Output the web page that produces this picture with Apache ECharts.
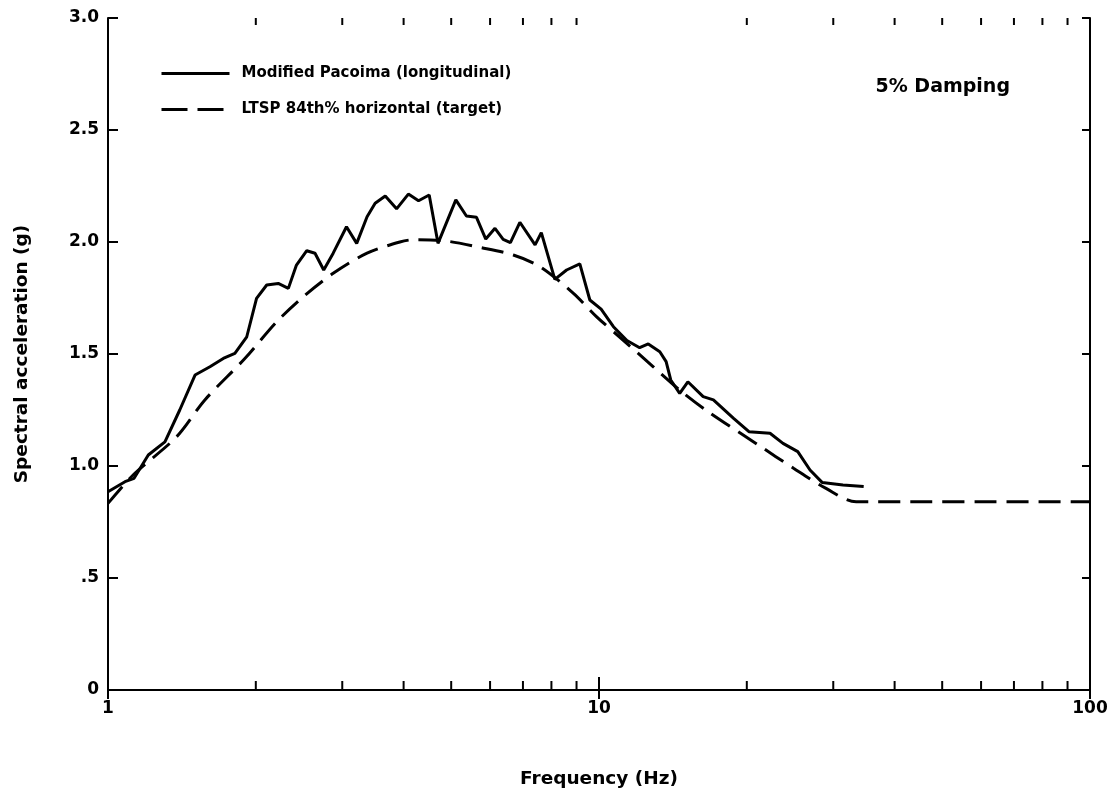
<!DOCTYPE html>
<html>
<head>
<meta charset="utf-8">
<script src="https://cdn.jsdelivr.net/npm/echarts@6/dist/echarts.min.js"></script>
<style>
  html, body { margin: 0; padding: 0; background: #fff; }
  #chart { width: 1119px; height: 795px; }
</style>
</head>
<body>
<div id="chart"></div>
<script>
// Response spectrum: modified Pacoima record vs. LTSP 84th percentile target
const freqPacoima = [1.0, 1.083, 1.13, 1.208, 1.306, 1.40, 1.504, 1.613, 1.717, 1.813, 1.917, 2.007, 2.105, 2.222, 2.33,
  2.42, 2.54, 2.64, 2.75, 2.875, 3.06, 3.21, 3.37, 3.50, 3.67, 3.87, 4.09, 4.29, 4.51, 4.70, 5.11, 5.37, 5.63,
  5.88, 6.14, 6.38, 6.60, 6.90, 7.41, 7.63, 8.13, 8.59, 9.14, 9.58, 10.1, 10.7, 11.4, 12.1, 12.6, 13.3, 13.7,
  14.0, 14.6, 15.17, 16.3, 17.1, 18.8, 20.2, 22.3, 23.7, 25.4, 26.9, 28.5, 31.4, 34.6];
const accPacoima = [0.885, 0.93, 0.945, 1.049, 1.108, 1.25, 1.406, 1.443, 1.48, 1.503, 1.577, 1.748, 1.808, 1.815, 1.793,
  1.897, 1.961, 1.95, 1.875, 1.95, 2.068, 1.994, 2.113, 2.173, 2.205, 2.148, 2.214, 2.184, 2.21, 1.994, 2.188, 2.116, 2.11,
  2.013, 2.061, 2.012, 1.997, 2.088, 1.987, 2.042, 1.833, 1.875, 1.902, 1.741, 1.70, 1.622, 1.56, 1.528, 1.545, 1.51, 1.466,
  1.384, 1.324, 1.376, 1.31, 1.295, 1.213, 1.153, 1.146, 1.101, 1.064, 0.982, 0.926, 0.915, 0.908];

const freqTarget = [1.0, 1.125, 1.38, 1.575, 1.90, 2.206, 2.50, 2.875, 3.37, 3.93, 4.19, 4.89, 5.72, 6.69, 7.58,
  8.87, 9.88, 11.0, 12.9, 14.6, 16.5, 21.1, 24.9, 29.0, 33.4, 100];
const accTarget = [0.833, 0.96, 1.131, 1.295, 1.48, 1.644, 1.756, 1.86, 1.95, 2.0, 2.01, 2.004, 1.976, 1.942, 1.89,
  1.771, 1.667, 1.577, 1.443, 1.339, 1.25, 1.094, 0.99, 0.90, 0.84, 0.84];

// Intermediate decade ticks on the log frequency axis
const minorTickFreqs = [2, 3, 4, 5, 6, 7, 8, 9, 20, 30, 40, 50, 60, 70, 80, 90];

const seriesNames = ['Modified Pacoima (longitudinal)', 'LTSP 84th% horizontal (target)'];
const FONT = '"DejaVu Sans", Verdana, sans-serif';

const zip = (xs, ys) => xs.map((x, i) => [x, ys[i]]);

const chart = echarts.init(document.getElementById('chart'), null, { renderer: 'canvas' });

const axisLine = { show: true, lineStyle: { color: '#000', width: 2 } };
const boldText = size => ({ fontFamily: FONT, fontWeight: 'bold', fontSize: size, color: '#000' });

chart.setOption({
  animation: false,
  backgroundColor: '#fff',
  grid: { left: 108, right: 29, top: 18, bottom: 105, containLabel: false },
  title: {
    text: '5% Damping',
    right: 104,
    top: 73,
    textStyle: boldText(19)
  },
  legend: {
    data: [
      { name: seriesNames[0], lineStyle: { width: 3, type: 'solid' } },
      { name: seriesNames[1], lineStyle: { width: 3, type: [26, 10] } }
    ],
    orient: 'vertical',
    left: 160,
    top: 66,
    padding: 0,
    itemWidth: 68,
    itemHeight: 14,
    itemGap: 21,
    itemStyle: { opacity: 0 },
    textStyle: Object.assign(boldText(15), { padding: [0, 0, 0, 7] })
  },
  xAxis: [{
    type: 'log',
    logBase: 10,
    min: 1,
    max: 100,
    position: 'bottom',
    name: 'Frequency (Hz)',
    nameLocation: 'middle',
    nameGap: 80,
    nameTextStyle: boldText(18.5),
    axisLine,
    axisTick: { show: true, inside: true, length: 13, lineStyle: { color: '#000', width: 2 } },
    axisLabel: Object.assign(boldText(17), { margin: 10, showMinLabel: true, showMaxLabel: true }),
    splitLine: { show: false }
  }, {
    type: 'log',
    logBase: 10,
    min: 1,
    max: 100,
    position: 'top',
    axisLine,
    axisTick: { show: true, inside: true, length: 9, lineStyle: { color: '#000', width: 2 } },
    axisLabel: { show: false },
    splitLine: { show: false }
  }],
  yAxis: [{
    type: 'value',
    min: 0,
    max: 3,
    interval: 0.5,
    position: 'left',
    name: 'Spectral acceleration (g)',
    nameLocation: 'middle',
    nameGap: 76,
    nameTextStyle: boldText(18.5),
    axisLine,
    axisTick: { show: true, inside: true, length: 10, lineStyle: { color: '#000', width: 2 } },
    axisLabel: Object.assign(boldText(17), {
      margin: 9,
      formatter: v => v === 0 ? '0' : (v < 1 ? '.' + v.toFixed(1).split('.')[1] : v.toFixed(1))
    }),
    splitLine: { show: false }
  }, {
    type: 'value',
    min: 0,
    max: 3,
    interval: 0.5,
    position: 'right',
    axisLine,
    axisTick: { show: true, inside: true, length: 8, lineStyle: { color: '#000', width: 2 } },
    axisLabel: { show: false },
    splitLine: { show: false }
  }],
  series: [{
    name: seriesNames[0],
    type: 'line',
    data: zip(freqPacoima, accPacoima),
    showSymbol: false,
    symbol: 'none',
    lineStyle: { color: '#000', width: 3, type: 'solid' },
    itemStyle: { color: '#000' },
    z: 3
  }, {
    name: seriesNames[1],
    type: 'line',
    data: zip(freqTarget, accTarget),
    showSymbol: false,
    symbol: 'none',
    smooth: 0.3,
    lineStyle: { color: '#000', width: 3, type: [22, 10] },
    itemStyle: { color: '#000' },
    z: 2
  }, {
    // minor ticks on bottom and top frame edges
    type: 'custom',
    data: minorTickFreqs.map(f => [f]),
    clip: false,
    silent: true,
    renderItem: (params, api) => {
      const f = api.value(0);
      const b = api.coord([f, 0]);
      const t = api.coord([f, 3]);
      const style = { stroke: '#000', lineWidth: 2 };
      return {
        type: 'group',
        children: [
          { type: 'line', shape: { x1: b[0], y1: b[1], x2: b[0], y2: b[1] - 9 }, style },
          { type: 'line', shape: { x1: t[0], y1: t[1], x2: t[0], y2: t[1] + 7 }, style }
        ]
      };
    }
  }]
});
</script>
</body>
</html>
